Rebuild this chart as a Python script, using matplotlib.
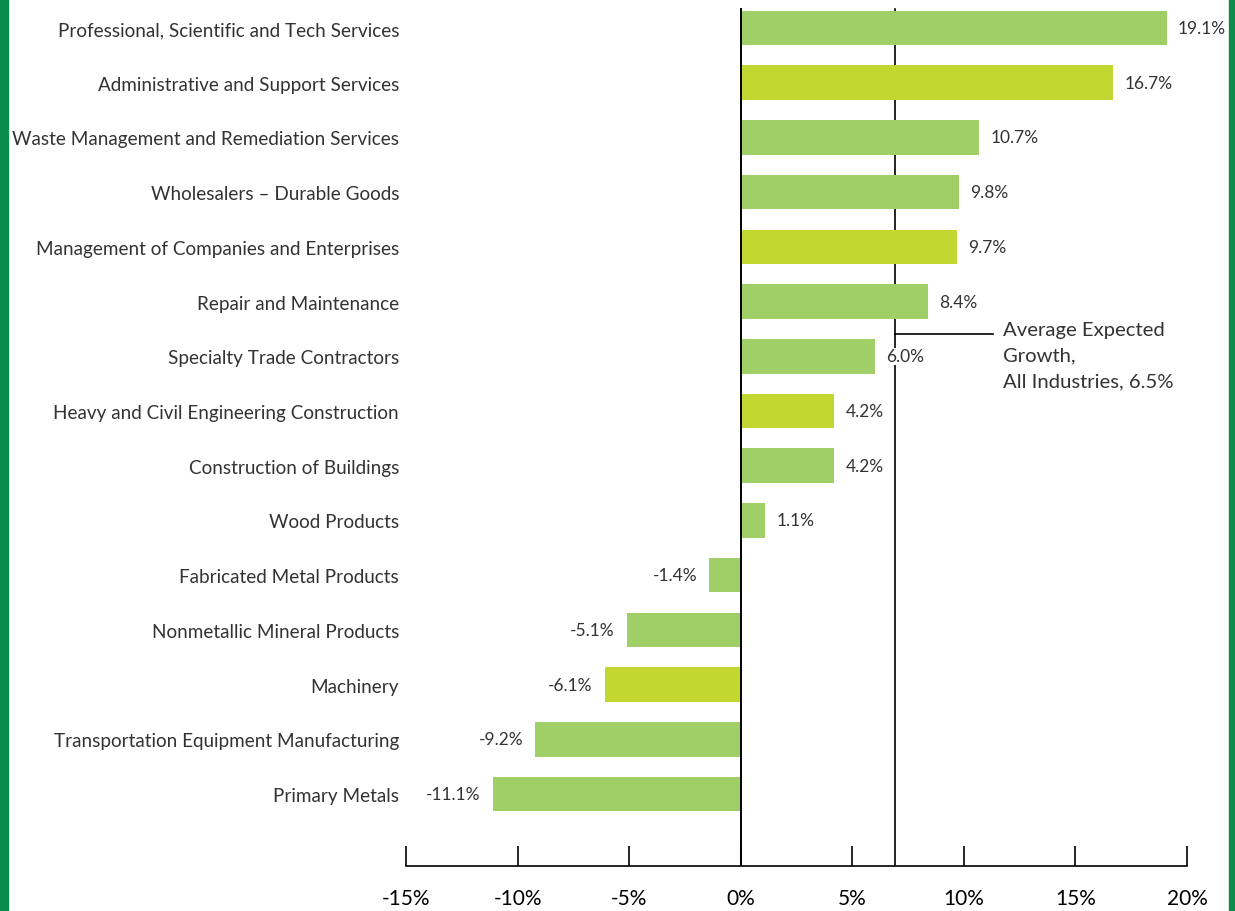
"""
Expected employment growth by industry, horizontal bar chart.
"""

import matplotlib
matplotlib.use("Agg")
import matplotlib.pyplot as plt
import matplotlib.ticker as mticker
from matplotlib.patches import Rectangle

# ── Data ──────────────────────────────────────────────────────────────────────
INDUSTRIES = [
    "Professional, Scientific and Tech Services",
    "Administrative and Support Services",
    "Waste Management and Remediation Services",
    "Wholesalers – Durable Goods",
    "Management of Companies and Enterprises",
    "Repair and Maintenance",
    "Specialty Trade Contractors",
    "Heavy and Civil Engineering Construction",
    "Construction of Buildings",
    "Wood Products",
    "Fabricated Metal Products",
    "Nonmetallic Mineral Products",
    "Machinery",
    "Transportation Equipment Manufacturing",
    "Primary Metals",
]
GROWTH = [19.1, 16.7, 10.7, 9.8, 9.7, 8.4, 6.0, 4.2, 4.2, 1.1,
          -1.4, -5.1, -6.1, -9.2, -11.1]
HIGHLIGHT = [False, True, False, False, True, False, False, True, False, False,
             False, False, True, False, False]
AVG_LINE = 6.9          # where the reference line is drawn
AVG_LABEL = "Average Expected\nGrowth,\nAll Industries, 6.5%"
X_TICKS = [-15, -10, -5, 0, 5, 10, 15, 20]

# ── Style ─────────────────────────────────────────────────────────────────────
GREEN = "#a0cf67"
LIME = "#c2d830"
BORDER = "#0b8c4c"
TEXT = "#333333"
FONT = "Lato"

plt.rcParams["font.family"] = [FONT, "DejaVu Sans"]

fig = plt.figure(figsize=(12.35, 9.12), dpi=100)
ax = fig.add_axes([406 / 1235, 45 / 912, (1187 - 406) / 1235, 867 / 912])

y = list(range(len(INDUSTRIES)))
colors = [LIME if h else GREEN for h in HIGHLIGHT]
ax.barh(y, GROWTH, height=0.63, color=colors, zorder=2)

ax.set_xlim(X_TICKS[0], X_TICKS[-1])
ax.set_ylim(len(INDUSTRIES) - 1 + 1.316, -0.53)

# vertical lines: zero axis and industry average (average sits behind bars)
top = (867 - 10) / 867
ax.axvline(0, ymin=0, ymax=top, color="black", lw=1.4, zorder=3)
ax.axvline(AVG_LINE, ymin=0, ymax=top, color="black", lw=1.2, zorder=1)

# connector + label for the average
ax.plot([AVG_LINE, 11.3], [5.6, 5.6], color="black", lw=1.2, zorder=1)
ax.text(11.75, 5.36, AVG_LABEL, ha="left", va="top", fontsize=14.6,
        color=TEXT, linespacing=1.6)

# value labels
for yi, v in zip(y, GROWTH):
    if v >= 0:
        ax.text(v + 0.5, yi, f"{v:.1f}%", ha="left", va="center",
                fontsize=12.5, color=TEXT, zorder=4,
                bbox=dict(facecolor="white", edgecolor="none", pad=0.5))
    else:
        ax.text(v - 0.55, yi, f"{v:.1f}%", ha="right", va="center",
                fontsize=12.5, color=TEXT, zorder=4)

# category labels
ax.set_yticks(y)
ax.set_yticklabels(INDUSTRIES, fontsize=13.6, color=TEXT)
ax.tick_params(axis="y", length=0, pad=5)

# bottom axis
ax.set_xticks(X_TICKS)
ax.xaxis.set_major_formatter(mticker.FuncFormatter(lambda v, _: f"{int(v)}%"))
ax.tick_params(axis="x", direction="in", length=14.4, width=1.2,
               labelsize=15, labelcolor="black", pad=16)
for side in ("top", "right", "left"):
    ax.spines[side].set_visible(False)
ax.spines["bottom"].set_linewidth(1.2)

# green page borders
fig.patches.append(Rectangle((0, 0), 8 / 1235, 1, transform=fig.transFigure,
                             color=BORDER, zorder=0))
fig.patches.append(Rectangle((1229 / 1235, 0), 6 / 1235, 1,
                             transform=fig.transFigure, color=BORDER, zorder=0))

fig.savefig("out.png", dpi=100)
